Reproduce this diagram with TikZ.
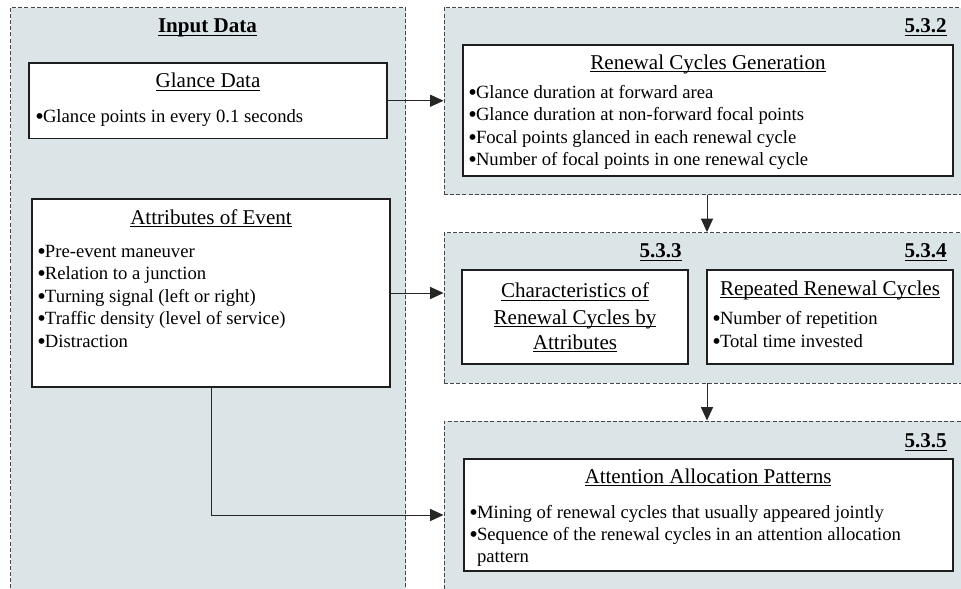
\documentclass[tikz,border=0pt]{standalone}
\usepackage{fontspec}
\usepackage{graphicx}
\setmainfont{Liberation Serif}
\usetikzlibrary{arrows.meta,fit}

\definecolor{panelfill}{RGB}{219,229,232}
\definecolor{paneledge}{RGB}{70,70,70}
\definecolor{boxedge}{RGB}{30,30,30}

% underline at a fixed depth below the baseline
\newcommand\ultext[1]{\setbox0=\hbox{#1}\rlap{\rule[-2.4pt]{\wd0}{0.75pt}}\box0}
% list bullet, slightly enlarged, taking no vertical room
\newcommand\bul{\makebox[5.8pt][l]{\raisebox{-1.8pt}[0pt][0pt]{\scalebox{1.3}{•}}}}

\tikzset{
  panel/.style={draw=paneledge, fill=panelfill, line width=0.7pt,
                dash pattern=on 3pt off 1.6pt, inner sep=0pt},
  infobox/.style={draw=boxedge, fill=white, line width=0.8pt, inner sep=0pt},
  body/.style={font=\fontsize{14}{17}\selectfont, inner sep=0pt, anchor=base west},
  heading/.style={font=\fontsize{15.8}{19}\selectfont, inner sep=0pt, anchor=base},
  secnum/.style={font=\fontsize{15.8}{19}\selectfont\bfseries, inner sep=0pt, anchor=base east},
  conn/.style={draw=black!85, line width=0.75pt, -{Triangle[length=10pt,width=9pt]}},
}

\begin{document}
\begin{tikzpicture}[x=0.75pt, y=-0.75pt]
\useasboundingbox (0,0) rectangle (961,589);
\clip (0,0) rectangle (961,589);

% ---- dashed section panels ----
\coordinate (inp-a) at (10.5,7.5);   \coordinate (inp-b) at (405.5,640);
\coordinate (p532-a) at (444,7.5);   \coordinate (p532-b) at (970,194.5);
\coordinate (p534-a) at (444,232.5); \coordinate (p534-b) at (970,383);
\coordinate (p535-a) at (444,421);   \coordinate (p535-b) at (970,640);
\node[panel, fit=(inp-a)(inp-b)] (inp) {};
\node[panel, fit=(p532-a)(p532-b)] (p532) {};
\node[panel, fit=(p534-a)(p534-b)] (p534) {};
\node[panel, fit=(p535-a)(p535-b)] (p535) {};

% ---- content boxes ----
\coordinate (gl-a) at (29,63);    \coordinate (gl-b) at (387,138.5);
\coordinate (at-a) at (32,199);   \coordinate (at-b) at (390,387);
\coordinate (rc-a) at (463,45);   \coordinate (rc-b) at (953,176);
\coordinate (ch-a) at (462,270);  \coordinate (ch-b) at (688,364);
\coordinate (rp-a) at (707,270);  \coordinate (rp-b) at (953,364);
\coordinate (aa-a) at (464,459);  \coordinate (aa-b) at (953,571);
\node[infobox, fit=(gl-a)(gl-b)] (glance) {};
\node[infobox, fit=(at-a)(at-b)] (attr) {};
\node[infobox, fit=(rc-a)(rc-b)] (renew) {};
\node[infobox, fit=(ch-a)(ch-b)] (charac) {};
\node[infobox, fit=(rp-a)(rp-b)] (repeat) {};
\node[infobox, fit=(aa-a)(aa-b)] (attn) {};

% ---- connectors ----
\draw[conn] (glance.east) -- (glance.east -| p532.west);
\draw[conn] (attr.east) -- (attr.east -| p534.west);
\draw[conn] (p532.south) -- (p534.north);
\draw[conn] (p534.south) -- (p535.north);
\draw[conn] (attr.south) |- (attn.west -| p535.west);

% ---- section headings ----
\node[heading, font=\fontsize{15.8}{19}\selectfont\bfseries] (t-inp) at (207.5,32.5) {\ultext{Input Data}};
\node[secnum] (n532) at (947,32.5) {\ultext{5.3.2}};
\node[secnum] (n533) at (682,257.5) {\ultext{5.3.3}};
\node[secnum] (n534) at (947,257.5) {\ultext{5.3.4}};
\node[secnum] (n535) at (947,447.5) {\ultext{5.3.5}};

% ---- Glance Data ----
\node[heading] (t-gl) at (208,87.5) {\ultext{Glance Data}};
\node[body] (gl-1) at (35,122) {\bul Glance points in every 0.1 seconds};

% ---- Attributes of Event ----
\node[heading] (t-at) at (211,224) {\ultext{Attributes of Event}};
\node[body] (at-1) at (37,257)   {\bul Pre-event maneuver};
\node[body] (at-2) at (37,279.5) {\bul Relation to a junction};
\node[body] (at-3) at (37,302)   {\bul Turning signal (left or right)};
\node[body] (at-4) at (37,324.5) {\bul Traffic density (level of service)};
\node[body] (at-5) at (37,347)   {\bul Distraction};

% ---- Renewal Cycles Generation ----
\node[heading] (t-rc) at (708,69) {\ultext{Renewal Cycles Generation}};
\node[body] (rc-1) at (468,98)    {\bul Glance duration at forward area};
\node[body] (rc-2) at (468,120.5) {\bul Glance duration at non-forward focal points};
\node[body] (rc-3) at (468,143)   {\bul Focal points glanced in each renewal cycle};
\node[body] (rc-4) at (468,165.5) {\bul Number of focal points in one renewal cycle};

% ---- Characteristics of Renewal Cycles by Attributes ----
\node[heading] (ch-1) at (575,297.5) {\ultext{Characteristics of}};
\node[heading] (ch-2) at (575,324)   {\ultext{Renewal Cycles by}};
\node[heading] (ch-3) at (575,349)   {\ultext{Attributes}};

% ---- Repeated Renewal Cycles ----
\node[heading] (t-rp) at (830,295) {\ultext{Repeated Renewal Cycles}};
\node[body] (rp-1) at (712,324) {\bul Number of repetition};
\node[body] (rp-2) at (712,347) {\bul Total time invested};

% ---- Attention Allocation Patterns ----
\node[heading] (t-aa) at (708,483) {\ultext{Attention Allocation Patterns}};
\node[body] (aa-1) at (469,518) {\bul Mining of renewal cycles that usually appeared jointly};
\node[body] (aa-2) at (469,540) {\bul Sequence of the renewal cycles in an attention allocation};
\node[body] (aa-3) at (469,562) {\hphantom{\bul}pattern};
\end{tikzpicture}
\end{document}
